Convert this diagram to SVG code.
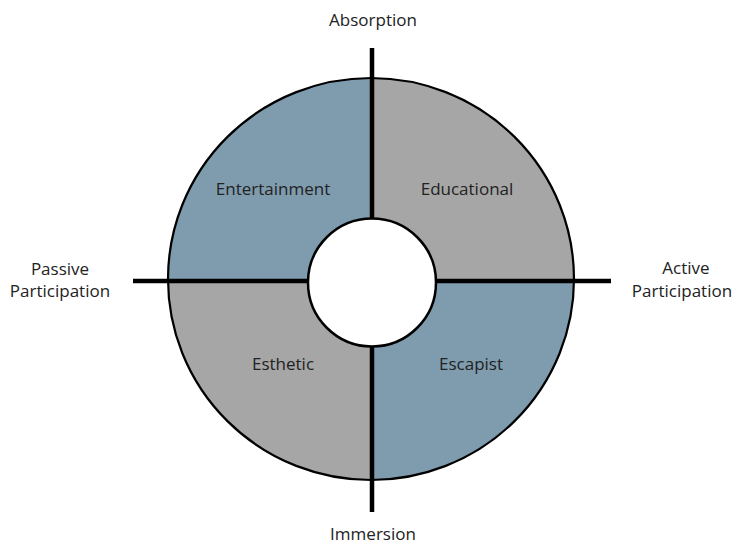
<svg xmlns="http://www.w3.org/2000/svg" width="737" height="546" viewBox="0 0 737 546">
<style>
text{font-family:"Open Sans","Liberation Sans",sans-serif;font-size:17px;fill:#222;text-anchor:middle}
.blue{fill:#7f9caf}
.gray{fill:#a6a6a6}
.axis{stroke:#000;stroke-width:4.5;fill:none}
</style>
<rect width="737" height="546" fill="#fff"/>
<g id="entertainment">
<path class="blue" d="M371,279 L168,279 A203,201 0 0 1 371,78 Z"/>
<text x="273" y="195">Entertainment</text>
</g>
<g id="educational">
<path class="gray" d="M371,279 L371,78 A203,201 0 0 1 574,279 Z"/>
<text x="467" y="195">Educational</text>
</g>
<g id="esthetic">
<path class="gray" d="M371,279 L371,480 A203,201 0 0 1 168,279 Z"/>
<text x="283" y="370">Esthetic</text>
</g>
<g id="escapist">
<path class="blue" d="M371,279 L574,279 A203,201 0 0 1 371,480 Z"/>
<text x="471" y="370">Escapist</text>
</g>
<ellipse cx="371" cy="279" rx="203" ry="201" fill="none" stroke="#000" stroke-width="2.2"/>
<g id="connectors">
<line class="axis" x1="372" y1="48" x2="372" y2="512"/>
<line class="axis" x1="133" y1="281" x2="611" y2="281"/>
</g>
<g id="center">
<circle cx="372" cy="282.5" r="64" fill="#fff" stroke="#000" stroke-width="2.5"/>
</g>
<g id="labels">
<text x="373" y="26">Absorption</text>
<text x="373" y="540">Immersion</text>
<text x="60" y="275">Passive</text>
<text x="60" y="297">Participation</text>
<text x="686" y="274">Active</text>
<text x="682" y="297">Participation</text>
</g>
</svg>
